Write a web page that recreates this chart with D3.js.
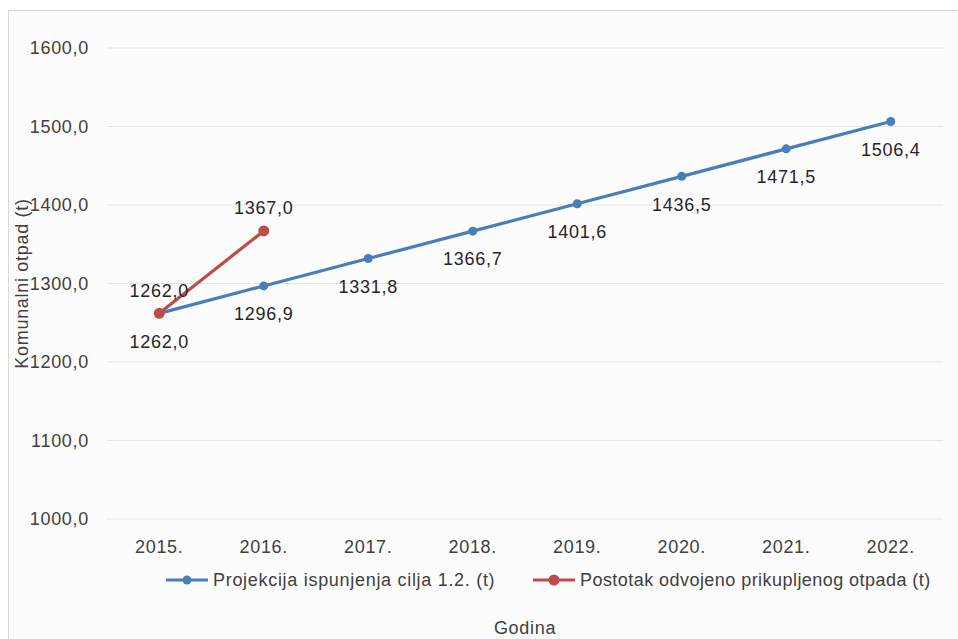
<!DOCTYPE html>
<html>
<head>
<meta charset="utf-8">
<script src="https://cdn.jsdelivr.net/npm/d3@7"></script>
<style>
  body { margin: 0; background: #fff; }
  svg { display: block; font-family: "Liberation Sans", Arial, sans-serif; }
  svg text { letter-spacing: 0.7px; }
</style>
</head>
<body>
<div id="chart"></div>
<script>
const years = ["2015.", "2016.", "2017.", "2018.", "2019.", "2020.", "2021.", "2022."];
const projekcija = [1262.0, 1296.9, 1331.8, 1366.7, 1401.6, 1436.5, 1471.5, 1506.4];
const odvojeno = [1262.0, 1367.0];
const yTicks = [1000, 1100, 1200, 1300, 1400, 1500, 1600];

const W = 958, H = 639;
const margin = {top: 48, right: 15, bottom: 120, left: 107};
const width = W - margin.left - margin.right,
      height = H - margin.top - margin.bottom;
const FS = 18;

const fmt = v => d3.format(".1f")(v).replace(".", ",");

const root = d3.select("#chart").append("svg")
    .attr("width", W)
    .attr("height", H);

root.append("rect")
    .attr("x", 8.5).attr("y", 10.5)
    .attr("width", W).attr("height", H)
    .attr("fill", "#fcfcfc")
    .attr("stroke", "#d9d9d9");

const svg = root.append("g")
    .attr("transform", `translate(${margin.left},${margin.top})`);

const x = d3.scaleBand().domain(years).range([0, width]);
const y = d3.scaleLinear().domain([1000, 1600]).range([height, 0]);

// gridlines
svg.append("g")
  .selectAll("line")
  .data(yTicks)
  .join("line")
    .attr("x1", 0).attr("x2", width)
    .attr("y1", d => y(d)).attr("y2", d => y(d))
    .attr("stroke", "#e3e3e3")
    .attr("stroke-width", 1.2);

// y axis labels
const yAxis = svg.append("g")
    .call(d3.axisLeft(y).tickValues(yTicks).tickFormat(fmt).tickSize(0).tickPadding(18));
yAxis.select(".domain").remove();
yAxis.selectAll("text").attr("font-size", FS).attr("fill", "#404040")
    .attr("font-family", "Liberation Sans, Arial, sans-serif");

// x axis labels
const xAxis = svg.append("g")
    .attr("transform", `translate(0,${height})`)
    .call(d3.axisBottom(x).tickSize(0).tickPadding(21));
xAxis.select(".domain").remove();
xAxis.selectAll("text").attr("font-size", FS).attr("fill", "#404040")
    .attr("font-family", "Liberation Sans, Arial, sans-serif");

const cx = (d, i) => x(years[i]) + x.bandwidth() / 2;
const line = d3.line().x(cx).y(d => y(d));

const series = [
  {name: "Projekcija ispunjenja cilja 1.2. (t)", values: projekcija, color: "#4a7ebb", r: 4.5, dy: 28, ls: 0.7},
  {name: "Postotak odvojeno prikupljenog otpada (t)", values: odvojeno, color: "#be4b48", r: 5.5, dy: -23, ls: 0.45}
];

series.forEach(s => {
  svg.append("path")
      .datum(s.values)
      .attr("d", line)
      .attr("fill", "none")
      .attr("stroke", s.color)
      .attr("stroke-width", 3.2);
});
series.forEach(s => {
  svg.append("g").selectAll("circle")
    .data(s.values)
    .join("circle")
      .attr("cx", cx)
      .attr("cy", d => y(d))
      .attr("r", s.r)
      .attr("fill", s.color);
  svg.append("g").selectAll("text")
    .data(s.values)
    .join("text")
      .attr("x", cx)
      .attr("y", d => y(d) + s.dy)
      .attr("dy", "0.35em")
      .attr("text-anchor", "middle")
      .attr("font-size", FS)
      .attr("fill", "#262626")
      .text(fmt);
});

// axis titles
root.append("text")
    .attr("transform", `translate(22,${margin.top + height / 2}) rotate(-90)`)
    .attr("text-anchor", "middle")
    .attr("dy", "0.35em")
    .attr("font-size", FS)
    .attr("fill", "#404040")
    .text("Komunalni otpad (t)");

root.append("text")
    .attr("x", 525).attr("y", 628)
    .attr("dy", "0.35em")
    .attr("text-anchor", "middle")
    .attr("font-size", FS)
    .attr("fill", "#404040")
    .text("Godina");

// legend
const legendX = [166, 533];
const legend = root.append("g").selectAll("g")
  .data(series)
  .join("g")
    .attr("transform", (d, i) => `translate(${legendX[i]},580)`);
legend.append("line")
    .attr("x1", 0).attr("x2", 42)
    .attr("stroke", d => d.color)
    .attr("stroke-width", 3.2);
legend.append("circle")
    .attr("cx", 21).attr("r", d => d.r)
    .attr("fill", d => d.color);
legend.append("text")
    .attr("x", 47)
    .attr("dy", "0.35em")
    .attr("font-size", FS)
    .attr("fill", "#404040")
    .style("letter-spacing", d => d.ls + "px")
    .text(d => d.name);
</script>
</body>
</html>
